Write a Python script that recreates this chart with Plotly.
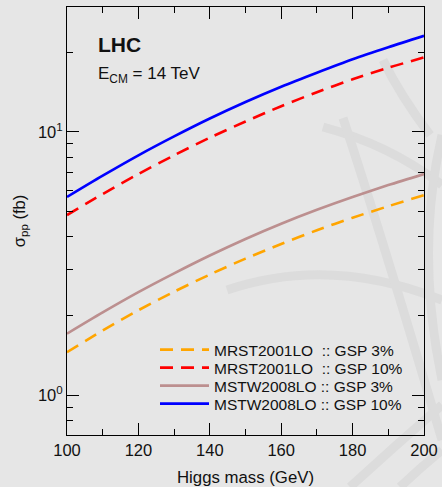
import plotly.graph_objects as go

# Data (cross-section in fb vs Higgs mass in GeV)
higgs_mass = [100, 110, 120, 130, 140, 150, 160, 170, 180, 190, 200]
mrst_3 = [1.455, 1.758, 2.10, 2.47, 2.87, 3.30, 3.75, 4.23, 4.72, 5.22, 5.75]
mrst_10 = [4.83, 5.81, 6.92, 8.15, 9.51, 10.96, 12.53, 14.16, 15.85, 17.54, 19.2]
mstw_3 = [1.71, 2.06, 2.46, 2.90, 3.39, 3.92, 4.48, 5.06, 5.66, 6.28, 6.92]
mstw_10 = [5.66, 6.82, 8.15, 9.62, 11.25, 13.0, 14.86, 16.8, 18.9, 21.0, 23.2]

labels = [
    "MRST2001LO\u00a0\u00a0:: GSP 3%",
    "MRST2001LO\u00a0\u00a0:: GSP 10%",
    "MSTW2008LO :: GSP 3%",
    "MSTW2008LO :: GSP 10%",
]
values = [mrst_3, mrst_10, mstw_3, mstw_10]
colors = ["#ffa500", "#ff0000", "#bc8f8f", "#0000ff"]
dashes = ["13px,8px", "13px,8px", "solid", "solid"]

BG = "#e6e6e6"
FONT = "Liberation Sans, Arial, sans-serif"
W, H = 442, 487
ML, MR, MT, MB = 67, 18, 7, 52
PW, PH = W - ML - MR, H - MT - MB

def px(x):
    return (x - ML) / PW

def py(y):
    return (H - MB - y) / PH

fig = go.Figure()
legend_names = ["legend", "legend2", "legend3", "legend4"]
for name, ys, color, dash, lg in zip(labels, values, colors, dashes, legend_names):
    fig.add_trace(go.Scatter(
        x=higgs_mass, y=ys, mode="lines", name=name, legend=lg,
        line=dict(color=color, width=2.6, dash=dash, shape="spline", smoothing=0.8),
    ))

# faint decorative watermark strokes in the background
def qpath(p0, c, p1):
    return "M {:.4f} {:.4f} Q {:.4f} {:.4f} {:.4f} {:.4f}".format(
        px(p0[0]), py(p0[1]), px(c[0]), py(c[1]), px(p1[0]), py(p1[1]))

wm_strokes = [
    ((227, 290), (330, 255), (442, 300)),
    ((323, 127), (390, 145), (442, 185)),
    ((343, 118), (380, 230), (442, 440)),
    ((383, 60), (400, 95), (430, 135)),
    ((442, 135), (415, 250), (442, 380)),
    ((350, 487), (395, 446), (442, 405)),
    ((400, 487), (420, 468), (442, 450)),
]
for p0, c, p1 in wm_strokes:
    fig.add_shape(type="path", path=qpath(p0, c, p1), xref="paper", yref="paper",
                  line=dict(color="#dcdcdc", width=9), layer="below")

legend_rows = [350, 368, 386, 404]
legend_layouts = {}
for lg, row in zip(legend_names, legend_rows):
    legend_layouts[lg] = dict(
        x=px(155), y=py(row), xanchor="left", yanchor="middle",
        bgcolor="rgba(0,0,0,0)", font=dict(size=15.5, family=FONT, color="#111111"),
        itemwidth=49,
    )

fig.update_layout(
    width=W, height=H,
    margin=dict(l=ML, r=MR, t=MT, b=MB, autoexpand=False),
    paper_bgcolor=BG, plot_bgcolor=BG,
    font=dict(family=FONT, color="#111111", size=15),
    showlegend=True,
    annotations=[
        dict(text="<b>LHC</b>", x=px(96), y=py(45), xref="paper", yref="paper",
             xanchor="left", yanchor="middle", showarrow=False,
             font=dict(size=21, family=FONT)),
        dict(text="E<sub>CM</sub> = 14 TeV", x=px(96), y=py(75), xref="paper", yref="paper",
             xanchor="left", yanchor="middle", showarrow=False,
             font=dict(size=17, family=FONT)),
    ],
    **legend_layouts,
)

fig.update_xaxes(
    range=[100, 200], dtick=20, ticks="inside", ticklen=12, tickcolor="black",
    showgrid=False, zeroline=False, showline=True, linecolor="black", linewidth=1,
    mirror="allticks", tickfont=dict(size=16.5, family=FONT), automargin=False,
    minor=dict(dtick=10, ticks="inside", ticklen=6, tickcolor="black", showgrid=False),
    title=dict(text="Higgs mass (GeV)", font=dict(size=16.8, family=FONT), standoff=14),
)
fig.update_yaxes(
    type="log", range=[-0.152, 1.475],
    tickvals=[1, 10], ticktext=["10<sup>0</sup>", "10<sup>1</sup>"],
    ticks="inside", ticklen=12, tickcolor="black",
    showgrid=False, zeroline=False, showline=True, linecolor="black", linewidth=1,
    mirror="allticks", tickfont=dict(size=16.5, family=FONT), automargin=False,
    minor=dict(tickvals=[0.7, 0.8, 0.9, 2, 3, 4, 5, 6, 7, 8, 9, 20, 30],
               ticks="inside", ticklen=6, tickcolor="black", showgrid=False),
    title=dict(text="σ<sub>pp</sub> (fb)", font=dict(size=16.5, family=FONT), standoff=8),
)

fig.write_html("out.html")
